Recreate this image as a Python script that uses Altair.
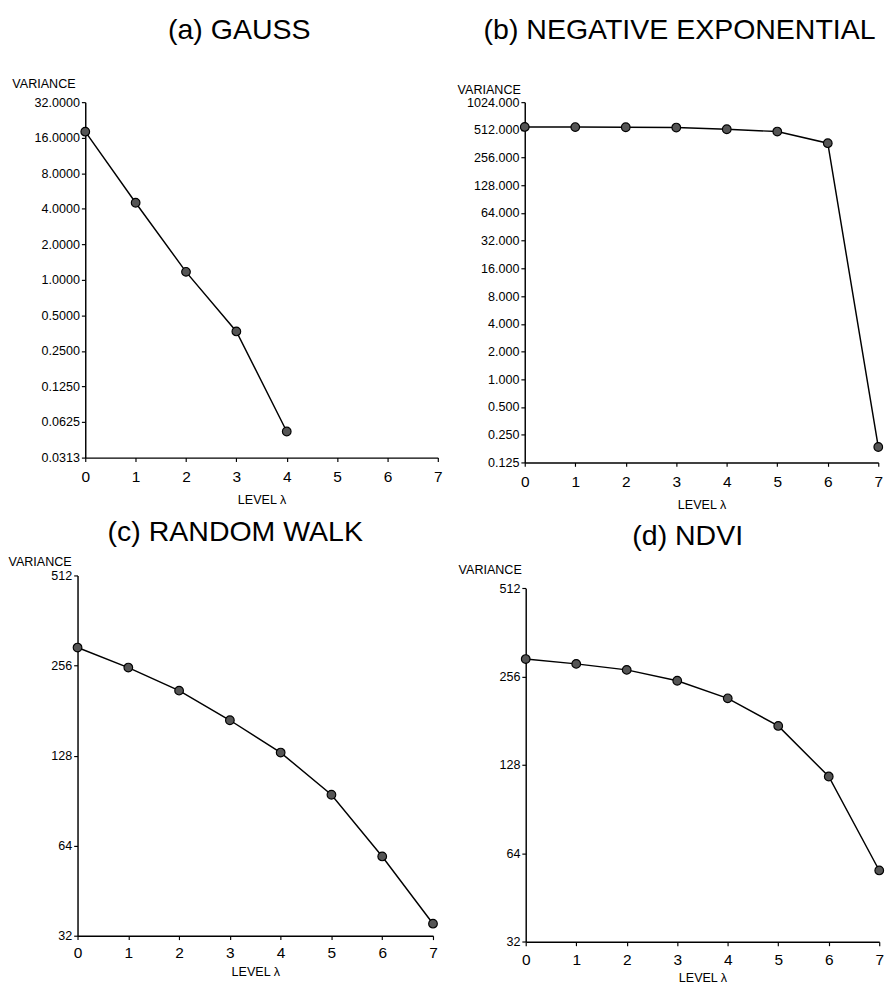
import altair as alt
import pandas as pd

levels = [0, 1, 2, 3, 4, 5, 6, 7]
gauss_levels = [0, 1, 2, 3, 4]
gauss_var = [18.0, 4.5, 1.17, 0.366, 0.052]
negexp_var = [551, 549, 547, 543, 520, 491, 367, 0.184]
rwalk_var = [294, 252, 211, 168, 131, 94.7, 58.9, 35.1]
ndvi_var = [294, 283, 270, 248, 216, 174, 117, 56]

gauss_ticks = [0.03125, 0.0625, 0.125, 0.25, 0.5, 1, 2, 4, 8, 16, 32]
negexp_ticks = [0.125, 0.25, 0.5, 1, 2, 4, 8, 16, 32, 64, 128, 256, 512, 1024]
walk_ticks = [32, 64, 128, 256, 512]

FONT = "Liberation Sans"


def panel(lv, var, title, domain, ticks, fmt, w, h, tdx, toffset,
          vtx, vty, xrange=None, yrange=None, yoff=0, xlabpad=8, xtitlepad=10,
          xtitlesize=13, xtick=4):
    df = pd.DataFrame({"level": lv, "variance": var})
    xs = dict(domain=[0, 7], nice=False, zero=False)
    if xrange is not None:
        xs["range"] = xrange
    ys = dict(type="log", base=2, domain=domain, nice=False, zero=False)
    if yrange is not None:
        ys["range"] = yrange
    x = alt.X(
        "level:Q",
        scale=alt.Scale(**xs),
        axis=alt.Axis(
            values=levels, format="d", title="LEVEL λ", labelFontSize=16,
            labelPadding=xlabpad, tickSize=xtick, titleFontSize=xtitlesize,
            titlePadding=xtitlepad, titleFontWeight="normal", labelFlush=False,
        ),
    )
    y = alt.Y(
        "variance:Q",
        scale=alt.Scale(**ys),
        axis=alt.Axis(
            values=ticks, format=fmt, title="VARIANCE", labelFontSize=13,
            labelPadding=2, tickSize=4, titleAngle=0, titleX=vtx, titleY=vty,
            titleAlign="left", titleBaseline="alphabetic", titleFontSize=13,
            titleFontWeight="normal", labelFlush=False, offset=yoff,
        ),
    )
    base = alt.Chart(df)
    line = base.mark_line(color="black", strokeWidth=1.5).encode(x=x, y=y)
    pts = base.mark_circle(
        fill="#555555", stroke="black", strokeWidth=1.2, size=80, opacity=1
    ).encode(x=x, y=y)
    return alt.layer(line, pts).properties(
        width=w,
        height=h,
        title=alt.TitleParams(
            title, fontSize=29.5, font=FONT, fontWeight="normal", dx=tdx,
            offset=toffset, color="black",
        ),
    )


pa = panel(gauss_levels, gauss_var, "(a) GAUSS", [0.03125, 32], gauss_ticks,
           ".4f", 373, 368, -19.1, 34, -76, -15,
           xrange=[8, 373], yoff=-8)
pb = panel(levels, negexp_var, "(b) NEGATIVE EXPONENTIAL", [0.125, 1024],
           negexp_ticks, ".3f", 366, 373, -22.7, 40, -70, -9)
pc = panel(levels, rwalk_var, "(c) RANDOM WALK", [32, 512], walk_ticks, "d",
           368, 373, -20.7, 9.4, -72, -10, xlabpad=6, xtitlepad=5)
pd_ = panel(levels, ndvi_var, "(d) NDVI", [32, 512], walk_ticks, "d",
            366, 379.3, -15.3, 13.9, -70, -1.6,
            yrange=[379.3, 13.3], xlabpad=6, xtitlepad=5)

row1 = alt.hconcat(pa, pb, spacing=15)
row2 = alt.hconcat(pc, pd_, spacing=19)

chart = (
    alt.vconcat(row1, row2, spacing=6)
    .properties(padding={"left": 0, "top": -10, "right": 0, "bottom": -3})
    .configure_view(stroke=None)
    .configure_axis(
        grid=False, domainColor="black", tickColor="black", labelColor="black",
        titleColor="black", labelFont=FONT, titleFont=FONT, domainWidth=1.5,
        tickWidth=1.2,
    )
    .configure_concat(spacing=15)
)

chart.save("out.html", embed_options={"renderer": "svg", "actions": False})
